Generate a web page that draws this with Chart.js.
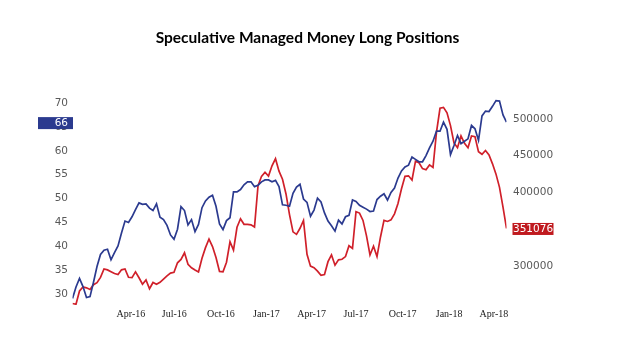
<!DOCTYPE html>
<html>
<head>
<meta charset="utf-8">
<script src="https://cdn.jsdelivr.net/npm/chart.js@4.4.1/dist/chart.umd.min.js"></script>
<style>
  html, body { margin: 0; padding: 0; background: #fff; }
</style>
</head>
<body>
<canvas id="chart" width="635" height="354"></canvas>
<script>
// ─── Data ─────────────────────────────────────────────────────────────────────

// weekly readings, week 0 = early Dec 2015, week 124 = late Apr 2018
const managedLong = [
    29.1, 31.5, 33.3, 31.6, 29.3, 29.5, 32.5, 35.8, 38.3, 39.2, 39.4,
    37.2, 38.7, 40.1, 42.8, 45.3, 45.0, 46.2, 47.7, 49.1, 48.8,
    48.9, 48.0, 47.5, 48.9, 46.1, 45.6, 44.4, 42.4, 41.5, 43.6,
    48.3, 47.5, 44.5, 45.6, 43.1, 44.6, 48.1, 49.5, 50.3, 50.7,
    48.4, 44.7, 43.5, 45.4, 46.0, 51.4, 51.4, 51.9, 52.9, 53.5,
    53.5, 52.5, 52.8, 53.5, 53.9, 53.9, 53.5, 53.8, 52.5, 48.7,
    48.6, 48.4, 51.1, 52.4, 53.0, 49.9, 49.2, 46.3, 47.6, 50.1,
    49.3, 47.0, 45.3, 44.3, 43.2, 45.5, 44.7, 46.2, 46.5, 49.7,
    49.4, 48.6, 48.2, 47.8, 47.3, 47.4, 49.8, 50.5, 51.0, 49.7,
    51.3, 52.2, 54.3, 55.8, 56.6, 57.0, 58.7, 58.2, 57.7, 57.7,
    59.0, 60.6, 62.0, 64.1, 64.1, 66.0, 64.5, 59.2, 61.1, 63.2,
    61.5, 62.0, 62.5, 65.3, 64.6, 62.2, 67.3, 68.3, 68.2, 69.3,
    70.5, 70.4, 67.5, 66.0,
];

const specLong = [
    249000, 248000, 266000, 271500, 270300, 268000, 274500, 277300, 284500, 296000, 294700,
    292200, 289800, 288300, 294800, 296000, 284700, 284100, 292100, 284000, 275200,
    281000, 269100, 277600, 275200, 277800, 282200, 286700, 290300, 291400, 304400,
    309000, 318000, 302300, 297500, 294500, 291800, 310500, 325000, 336700, 326500,
    311500, 292700, 292200, 305100, 333000, 321500, 352700, 364300, 356700, 356700,
    356000, 353000, 409000, 422000, 427500, 422300, 436300, 446000, 429100, 418000,
    398000, 370000, 346500, 343100, 351300, 362000, 316000, 299800, 297700, 293000,
    287300, 288500, 305900, 315000, 301100, 308400, 309200, 312800, 327600, 324000,
    373800, 372000, 362000, 341000, 315000, 326900, 312800, 339500, 362100, 360600,
    362800, 371000, 385000, 405000, 422000, 422700, 417000, 442700, 440500, 432500,
    431000, 437500, 434000, 482000, 514600, 515800, 508300, 491000, 467400, 461000,
    477000, 467000, 461000, 477000, 475800, 455400, 452000, 457200, 451200, 439000,
    425000, 407000, 380000, 351076,
];

const monthTickWeeks = [16.7, 29.1, 42.4, 55.4, 68.3, 81.0, 94.3, 107.6, 120.4];
const monthTickLabels = ['Apr-16', 'Jul-16', 'Oct-16', 'Jan-17', 'Apr-17', 'Jul-17', 'Oct-17', 'Jan-18', 'Apr-18'];
const leftTicks = [30, 35, 40, 45, 50, 55, 60, 65, 70];
const rightTicks = [300000, 350000, 400000, 450000, 500000];

// ─── Style ────────────────────────────────────────────────────────────────────

const colors = {
    blue: '#2b3a8f',
    red: '#d0202a',
    badgeBlue: '#2b3a8f',
    badgeRed: '#c01a1f',
    tick: '#595959',
    title: '#000000',
};

const tickFont = { family: '"DejaVu Sans", Verdana, sans-serif', size: 10.5 };
const dateFont = { family: '"Liberation Serif", "Times New Roman", serif', size: 10 };

// ─── Last value badges ────────────────────────────────────────────────────────

const lastValueBadges = {
    id: 'lastValueBadges',
    afterDatasetsDraw(chart) {
        const { ctx, chartArea, scales } = chart;
        ctx.save();
        ctx.font = `${tickFont.size}px ${tickFont.family}`;
        ctx.textBaseline = 'middle';

        const leftVal = managedLong[managedLong.length - 1];
        const ly = scales.yLeft.getPixelForValue(leftVal);
        ctx.fillStyle = colors.badgeBlue;
        ctx.fillRect(chartArea.left - 34.5, ly - 5, 35, 12);
        ctx.fillStyle = '#ffffff';
        ctx.textAlign = 'right';
        ctx.fillText(Math.round(leftVal).toString(), chartArea.left - 4.5, ly + 1);

        const rightVal = specLong[specLong.length - 1];
        const ry = scales.yRight.getPixelForValue(rightVal);
        ctx.fillStyle = colors.badgeRed;
        ctx.fillRect(chartArea.right + 6, ry - 5.5, 41, 12);
        ctx.fillStyle = '#ffffff';
        ctx.textAlign = 'left';
        ctx.fillText(String(rightVal), chartArea.right + 6.5, ry + 0.5);
        ctx.restore();
    },
};

// ─── Chart ────────────────────────────────────────────────────────────────────

new Chart(document.getElementById('chart'), {
    type: 'line',
    data: {
        datasets: [
            {
                label: 'Managed Money Long',
                data: managedLong.map((v, i) => ({ x: i, y: v })),
                borderColor: colors.blue,
                borderWidth: 1.7,
                pointRadius: 0,
                tension: 0,
                yAxisID: 'yLeft',
            },
            {
                label: 'Speculative Long',
                data: specLong.map((v, i) => ({ x: i, y: v })),
                borderColor: colors.red,
                borderWidth: 1.7,
                pointRadius: 0,
                tension: 0,
                yAxisID: 'yRight',
            },
        ],
    },
    options: {
        responsive: false,
        animation: false,
        layout: { padding: { left: 0, right: 20, top: 0, bottom: 0 } },
        plugins: {
            legend: { display: false },
            tooltip: { enabled: false },
            title: {
                display: true,
                text: 'Speculative Managed Money Long Positions',
                color: colors.title,
                font: { family: 'Lato, "Open Sans", sans-serif', size: 15.5, weight: 'bold' },
                padding: { top: 28.7, bottom: 47.7 },
            },
        },
        scales: {
            x: {
                type: 'linear',
                min: 0,
                max: 124,
                grid: { display: false, drawTicks: false },
                border: { display: false },
                afterBuildTicks: axis => {
                    axis.ticks = monthTickWeeks.map(v => ({ value: v }));
                },
                afterFit: axis => { axis.height = 49; },
                ticks: {
                    autoSkip: false,
                    maxRotation: 0,
                    padding: 3,
                    color: '#222222',
                    font: dateFont,
                    callback: (v, i) => monthTickLabels[i],
                },
            },
            yLeft: {
                position: 'left',
                min: 27.74,
                max: 71.67,
                grid: { display: false, drawTicks: false },
                border: { display: false },
                afterBuildTicks: axis => {
                    axis.ticks = leftTicks.map(v => ({ value: v }));
                },
                afterFit: axis => { axis.width = 72.5; },
                ticks: { padding: 4.5, color: colors.tick, font: tickFont },
            },
            yRight: {
                position: 'right',
                min: 246940,
                max: 532650,
                grid: { display: false, drawTicks: false },
                border: { display: false },
                afterBuildTicks: axis => {
                    axis.ticks = rightTicks.map(v => ({ value: v }));
                },
                afterFit: axis => { axis.width = 108.5; },
                ticks: { padding: 6.5, color: colors.tick, font: tickFont, callback: v => String(v) },
            },
        },
    },
    plugins: [lastValueBadges],
});
</script>
</body>
</html>
